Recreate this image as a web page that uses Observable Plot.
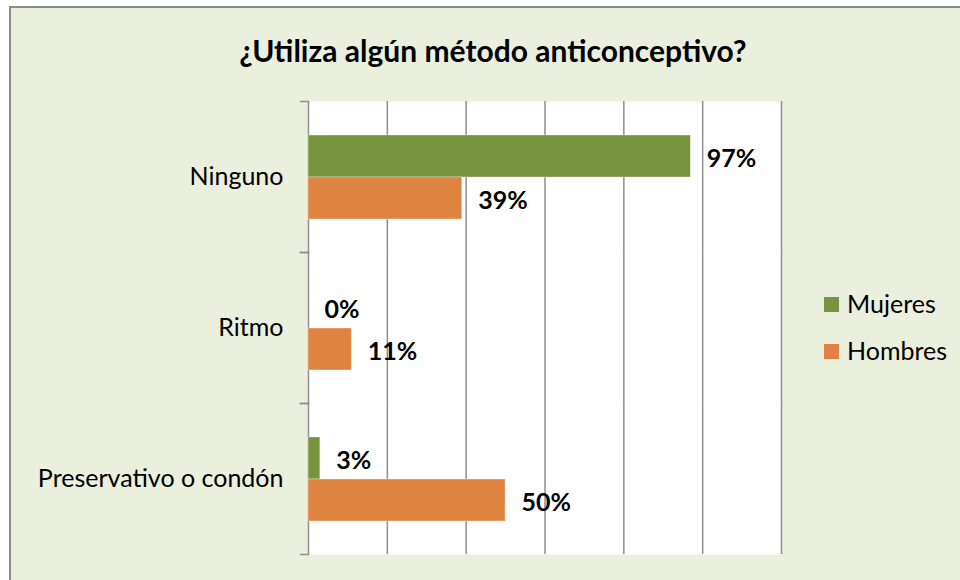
<!DOCTYPE html>
<html>
<head>
<meta charset="utf-8">
<script src="https://cdn.jsdelivr.net/npm/d3@7"></script>
<script src="https://cdn.jsdelivr.net/npm/@observablehq/plot@0.6"></script>
<style>
  html, body { margin: 0; padding: 0; background: #ffffff; }
  #wrap { position: relative; width: 960px; height: 580px; overflow: hidden; background: #ffffff; font-family: Lato, "Open Sans", sans-serif; }
  #panel { position: absolute; left: 9px; top: 6px; width: 1000px; height: 1000px; background: #EBF0DE; border: 2px solid #8c8c8c; box-sizing: border-box; }
  #title { position: absolute; left: 0; width: 986px; top: 34px; text-align: center; font-weight: bold; font-size: 30px; line-height: 32px; color: #000; }
  #chart { position: absolute; left: 0; top: 0; }
  .leg { position: absolute; left: 824px; font-size: 25px; line-height: 28px; color: #000; white-space: nowrap; }
  .sw { display: inline-block; width: 15px; height: 15px; margin-right: 8px; vertical-align: 1px; }
</style>
</head>
<body>
<div id="wrap">
  <div id="panel"></div>
  <div id="chart"></div>
  <div id="title">¿Utiliza algún método anticonceptivo?</div>
  <div id="legend"></div>
</div>
<script>
const categories = ["Ninguno", "Ritmo", "Preservativo o condón"];
const seriesNames = ["Mujeres", "Hombres"];
const mujeres = [0.97, 0.00, 0.03];
const hombres = [0.39, 0.11, 0.50];
const xTicks = [0, 0.2, 0.4, 0.6, 0.8, 1.0, 1.2];
const seriesColors = ["#77933C", "#DE8440"];

const seriesValues = {Mujeres: mujeres, Hombres: hombres};
const data = categories.flatMap((c, i) =>
  seriesNames.map(s => ({category: c, series: s, value: seriesValues[s][i]}))
);

const gridColor = "#8e8e8e";

const chart = Plot.plot({
  width: 960,
  height: 580,
  marginLeft: 308,
  marginRight: 179,
  marginTop: 100,
  marginBottom: 26,
  style: {background: "transparent", fontFamily: "Lato, 'Open Sans', sans-serif", color: "#000"},
  x: {domain: [0, 1.2], axis: null},
  y: {domain: seriesNames, paddingInner: 0, paddingOuter: 0.756, axis: null},
  fy: {domain: categories, padding: 0, axis: null, label: null},
  color: {domain: seriesNames, range: seriesColors},
  marks: [
    Plot.frame({fill: "white", stroke: null}),
    Plot.gridX(xTicks, {stroke: gridColor, strokeOpacity: 1, strokeWidth: 1.5}),
    Plot.barX(data, {fy: "category", y: "series", x: "value", fill: "series", stroke: "#ffffff", strokeOpacity: 0.35, strokeWidth: 1}),
    Plot.text(data, {
      fy: "category", y: "series", x: "value",
      text: d => Math.round(d.value * 100) + "%",
      textAnchor: "start", dx: 16, dy: 2,
      fontWeight: "bold", fontSize: 25, fill: "#000"
    }),
    Plot.frame({anchor: "top", stroke: gridColor, strokeWidth: 1.5, insetLeft: -8, insetRight: 473}),
    Plot.frame({anchor: "bottom", stroke: gridColor, strokeWidth: 1.5, insetLeft: -8, insetRight: 473}),
    Plot.axisFy({anchor: "left", tickSize: 0, tickPadding: 25, fontSize: 25, label: null, fill: "#000"})
  ]
});
document.getElementById("chart").appendChild(chart);

const legend = document.getElementById("legend");
seriesNames.forEach((s, i) => {
  const row = document.createElement("div");
  row.className = "leg";
  row.style.top = (289 + i * 47) + "px";
  const sw = document.createElement("span");
  sw.className = "sw";
  sw.style.background = seriesColors[i];
  row.appendChild(sw);
  row.appendChild(document.createTextNode(s));
  legend.appendChild(row);
});
</script>
</body>
</html>
